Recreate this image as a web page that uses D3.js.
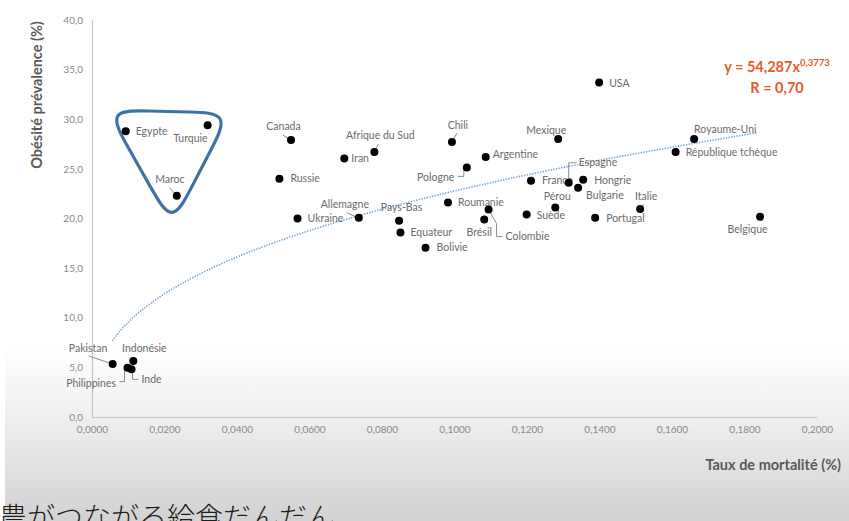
<!DOCTYPE html>
<html><head><meta charset="utf-8">
<script src="https://cdn.jsdelivr.net/npm/d3@7"></script>
<style>
html,body{margin:0;padding:0;background:#fff;overflow:hidden;}
svg{display:block;}
</style></head>
<body>
<svg id="chart" width="849" height="521"></svg>
<script>
// ---------- data ----------
const countries = ["Egypte","Turquie","Maroc","Canada","Russie","Ukraine","Afrique du Sud","Iran","Chili","Argentine","Pologne","Allemagne","Pays-Bas","Equateur","Bolivie","Roumanie","Brésil","Colombie","France","Mexique","USA","Espagne","Hongrie","Bulgarie","Pérou","Suède","Portugal","Italie","Belgique","Royaume-Uni","République tchèque","Pakistan","Indonésie","Philippines","Inde"];
const mortality = [0.0093,0.0319,0.0234,0.0549,0.0517,0.0567,0.0779,0.0696,0.0993,0.1086,0.1034,0.0736,0.0847,0.0851,0.0920,0.0982,0.1082,0.1094,0.1211,0.1286,0.1399,0.1315,0.1355,0.1341,0.1278,0.1199,0.1388,0.1512,0.1843,0.1661,0.1610,0.0057,0.0114,0.0098,0.0109];
const obesity   = [28.8,29.4,22.3,27.9,24.0,20.0,26.7,26.05,27.7,26.2,25.15,20.07,19.77,18.6,17.05,21.6,19.9,20.9,23.8,28.0,33.7,23.6,23.9,23.1,21.1,20.4,20.07,20.95,20.17,28.0,26.7,5.34,5.64,4.97,4.8];
const xTicks = [0,0.02,0.04,0.06,0.08,0.10,0.12,0.14,0.16,0.18,0.20];
const yTicks = [0,5,10,15,20,25,30,35,40];
const trendA = 54.287, trendB = 0.3773, trendR = "0,70";
const xTitle = "Taux de mortalité (%)";
const yTitle = "Obésité prévalence (%)";
const caption = "農がつながる給食だんだん";
// highlighted group outline (data units): rounded triangle round Egypte / Turquie / Maroc
const groupCorners = [[0.00414,30.93],[0.0381,30.63],[0.02207,19.35]];

// ---------- label layout (pixel offsets from the dot) ----------
const labelLayout = {
 "Egypte":{dx:10,dy:0,a:"start"},
 "Turquie":{dx:0,dy:13,a:"end"},
 "Maroc":{dx:-7,dy:-16,a:"middle",l:[[-7,-8],[-2,-2]]},
 "Canada":{dx:-7.5,dy:-14,a:"middle",l:[[-8,-5],[-2,-1]]},
 "Russie":{dx:11,dy:0,a:"start"},
 "Ukraine":{dx:10,dy:0,a:"start"},
 "Afrique du Sud":{dx:6,dy:-17,a:"middle",l:[[4,-8],[1,-2]]},
 "Iran":{dx:7,dy:0,a:"start"},
 "Chili":{dx:6,dy:-17,a:"middle",l:[[5,-9],[1,-2]]},
 "Argentine":{dx:7,dy:-3,a:"start"},
 "Pologne":{dx:-12.5,dy:10,a:"end",l:[[-9,9],[-3,9],[-3,2]]},
 "Allemagne":{dx:-14,dy:-13,a:"middle",l:[[-12,-5],[-3,-1]]},
 "Pays-Bas":{dx:2.5,dy:-13,a:"middle"},
 "Equateur":{dx:10,dy:0,a:"start"},
 "Bolivie":{dx:11,dy:0,a:"start"},
 "Roumanie":{dx:10,dy:0,a:"start"},
 "Brésil":{dx:-5,dy:13,a:"middle"},
 "Colombie":{dx:17,dy:27,a:"start",l:[[0,0],[8,14],[8,27],[14,27]]},
 "France":{dx:11,dy:0,a:"start"},
 "Mexique":{dx:-12,dy:-9,a:"middle"},
 "USA":{dx:10,dy:0.5,a:"start"},
 "Espagne":{dx:10,dy:-20,a:"start",l:[[0,-3],[0,-20],[8,-20]]},
 "Hongrie":{dx:11,dy:0.5,a:"start"},
 "Bulgarie":{dx:8,dy:8,a:"start"},
 "Pérou":{dx:2,dy:-11,a:"middle"},
 "Suède":{dx:10,dy:0.5,a:"start"},
 "Portugal":{dx:11,dy:0.5,a:"start"},
 "Italie":{dx:6,dy:-13,a:"middle",l:[[4,-5],[1,-1]]},
 "Belgique":{dx:-12.5,dy:12.5,a:"middle"},
 "Royaume-Uni":{dx:0,dy:-10,a:"start"},
 "République tchèque":{dx:10,dy:0.5,a:"start"},
 "Pakistan":{dx:-24.5,dy:-16,a:"middle",l:[[-24,-8],[-3,-1]]},
 "Indonésie":{dx:11,dy:-13,a:"middle"},
 "Philippines":{dx:-11.5,dy:15.5,a:"end",l:[[-3,3],[-3,14],[-8,14]]},
 "Inde":{dx:10,dy:10,a:"start",l:[[1,2],[1,10],[7,10]]}
};

// ---------- drawing ----------
const svg = d3.select("#chart");
const W = 849, H = 521;
const x = d3.scaleLinear().domain([0,0.2]).range([92,817]);
const y = d3.scaleLinear().domain([0,40]).range([417,20]);
const comma = (v,n) => v.toFixed(n).replace(".",",");

// background gradient
const defs = svg.append("defs");
const grad = defs.append("linearGradient").attr("id","bg").attr("x1",0).attr("y1",0).attr("x2",0).attr("y2",1);
grad.append("stop").attr("offset","0").attr("stop-color","#ffffff");
grad.append("stop").attr("offset","0.35").attr("stop-color","#f2f2f2");
grad.append("stop").attr("offset","1").attr("stop-color","#d2d2d2");
svg.append("rect").attr("width",W).attr("height",H).attr("fill","#fff");
svg.append("rect").attr("x",5).attr("y",345).attr("width",W-5).attr("height",H-345).attr("fill","url(#bg)");

const font = "Lato, 'Liberation Sans', sans-serif";

// axes
const gy = svg.append("g").attr("transform",`translate(${x(0)},0)`)
  .call(d3.axisLeft(y).tickValues(yTicks).tickSize(0).tickPadding(9).tickFormat(d=>comma(d,1)));
const gx = svg.append("g").attr("transform",`translate(0,${y(0)})`)
  .call(d3.axisBottom(x).tickValues(xTicks).tickSize(0).tickPadding(9).tickFormat(d=>comma(d,4)));
[gx,gy].forEach(g=>{
  g.select(".domain").attr("stroke","#c4c4c4").attr("stroke-width",1.2);
  g.selectAll("text").attr("fill","#8a8a8a").style("font-family",font).style("font-size","10px");
});

// titles
svg.append("text").attr("transform","translate(42,95) rotate(-90)").attr("text-anchor","middle")
  .style("font-family",font).style("font-weight","bold").style("font-size","14.5px").attr("fill","#595959").text(yTitle);
svg.append("text").attr("x",841).attr("y",470).attr("text-anchor","end")
  .style("font-family",font).style("font-weight","bold").style("font-size","14.5px").attr("fill","#595959").text(xTitle);

// trend line from the displayed power equation
const trendX = d3.range(0.0056, 0.1845, 0.001);
svg.append("path")
  .attr("d", d3.line().x(d=>x(d)).y(d=>y(trendA*Math.pow(d,trendB)))(trendX))
  .attr("fill","none").attr("stroke","#6a9fd3").attr("stroke-width",1.6).attr("stroke-dasharray","1.3 1.4");

// equation
const eq = svg.append("text").attr("x",777).attr("y",72).attr("text-anchor","middle")
  .style("font-family",font).style("font-weight","bold").style("font-size","14.5px").attr("fill","#e8582c");
eq.append("tspan").text(`y = ${comma(trendA,3)}x`);
eq.append("tspan").attr("dy",-6).style("font-size","9.5px").text(comma(trendB,4));
svg.append("text").attr("x",777).attr("y",93).attr("text-anchor","middle")
  .style("font-family",font).style("font-weight","bold").style("font-size","14.5px").attr("fill","#e8582c")
  .text(`R = ${trendR}`);

// group outline
const [TL,TR,B] = groupCorners.map(([a,b])=>[x(a),y(b)]);
const lerp = (p,q,t)=>[p[0]+(q[0]-p[0])*t, p[1]+(q[1]-p[1])*t];
const outline = [TL,lerp(TL,TR,1/3),lerp(TL,TR,2/3),TR,lerp(TR,B,1/3),lerp(TR,B,2/3),B,lerp(B,TL,1/3),lerp(B,TL,2/3)];
svg.append("path").attr("d", d3.line().curve(d3.curveBasisClosed)(outline))
  .attr("fill","none").attr("stroke","#3e72a6").attr("stroke-width",3.2);

// points data
const pts = countries.map((c,i)=>({name:c, m:mortality[i], o:obesity[i]}));

// labels & leaders
const lab = svg.append("g");
pts.forEach(p=>{
  const L = labelLayout[p.name];
  const px = x(p.m), py = y(p.o);
  if (L.l) {
    lab.append("path").attr("d", d3.line()(L.l.map(([a,b])=>[px+a,py+b])))
      .attr("fill","none").attr("stroke","#8c8c8c").attr("stroke-width",1);
  }
  lab.append("text").attr("x",px+L.dx).attr("y",py+L.dy).attr("dy","0.35em").attr("text-anchor",L.a)
    .style("font-family",font).style("font-size","10.5px").attr("fill","#6b6b6b").text(p.name);
});

// dots
svg.append("g").selectAll("circle").data(pts).join("circle")
  .attr("cx",d=>x(d.m)).attr("cy",d=>y(d.o)).attr("r",4).attr("fill","#000");

// caption (cut by the bottom edge, as in the reference)
svg.append("text").attr("x",-1).attr("y",528)
  .style("font-family","'Noto Sans CJK JP', sans-serif").style("font-weight","300").style("font-size","28px").attr("fill","#1e1e1e").text(caption);
</script>
</body></html>
